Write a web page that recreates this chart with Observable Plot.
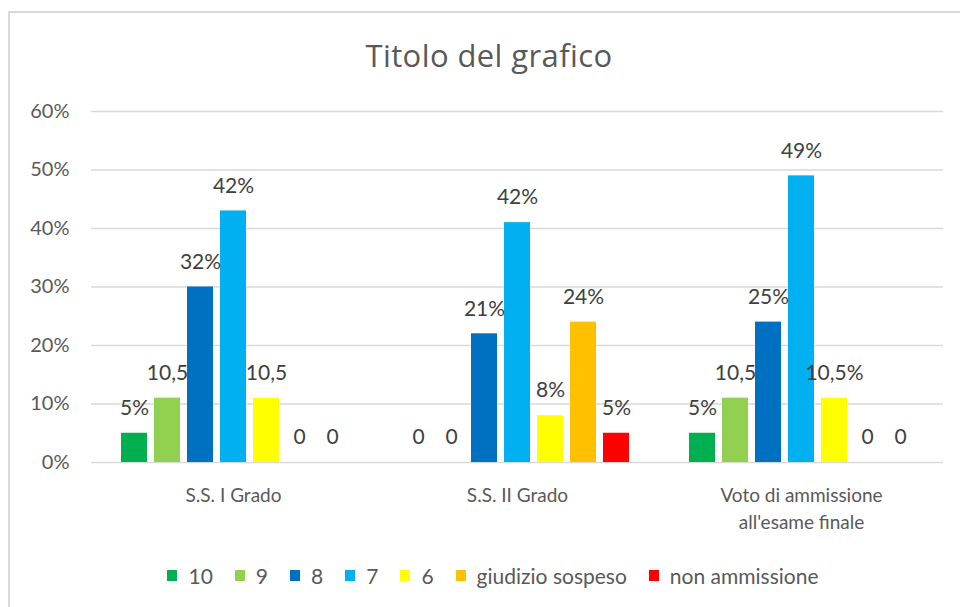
<!DOCTYPE html>
<html><head><meta charset="utf-8">
<script src="https://cdn.jsdelivr.net/npm/d3@7"></script>
<script src="https://cdn.jsdelivr.net/npm/@observablehq/plot@0.6"></script>
<style>
body{margin:0;background:#fff;font-family:Lato,"Open Sans",sans-serif;}
#wrap{position:relative;width:960px;height:607px;overflow:hidden;background:#fff;}
#frame{position:absolute;left:8px;top:11px;width:1000px;height:700px;border:2px solid #D9D9D9;box-sizing:border-box;}
#title{position:absolute;top:40px;left:0;width:978px;text-align:center;font-family:"Open Sans",Lato,sans-serif;font-size:31px;letter-spacing:0.4px;line-height:1;color:#595959;}
#chart{position:absolute;left:0;top:90px;}
#legend{position:absolute;top:565px;left:0;width:986px;display:flex;justify-content:center;align-items:center;font-size:21px;line-height:1;color:#595959;}
.item{display:flex;align-items:center;margin:0 11px;}
.sw{width:10px;height:11px;margin-right:11px;}
</style>
</head><body>
<div id="wrap">
  <div id="frame"></div>
  <div id="title">Titolo del grafico</div>
  <div id="chart"></div>
  <div id="legend"></div>
</div>
<script>
const groups = ["S.S. I Grado", "S.S. II Grado", "Voto di ammissione\nall'esame finale"];
const series = ["10", "9", "8", "7", "6", "giudizio sospeso", "non ammissione"];
const colors = ["#00B050", "#92D050", "#0070C0", "#00B0F0", "#FFFF00", "#FFC000", "#FF0000"];
const valuesI = [5, 11, 30, 43, 11, 0, 0];
const valuesII = [0, 0, 22, 41, 8, 24, 5];
const valuesVoto = [5, 11, 24, 49, 11, 0, 0];
const labelsI = ["5%", "10,5", "32%", "42%", "10,5", "0", "0"];
const labelsII = ["0", "0", "21%", "42%", "8%", "24%", "5%"];
const labelsVoto = ["5%", "10,5", "25%", "49%", "10,5%", "0", "0"];
const yTicks = [0, 10, 20, 30, 40, 50, 60];

const allValues = [valuesI, valuesII, valuesVoto];
const allLabels = [labelsI, labelsII, labelsVoto];
const data = [];
groups.forEach((g, gi) => series.forEach((s, si) => data.push({group: g, series: s, value: allValues[gi][si], label: allLabels[gi][si]})));

const chart = Plot.plot({
  width: 960,
  height: 450,
  marginTop: 21,
  marginBottom: 78,
  marginLeft: 90,
  marginRight: 17,
  style: {fontFamily: "Lato, 'Open Sans', sans-serif", fontSize: "20px", color: "#595959", background: "transparent"},
  fx: {domain: groups, padding: 0, label: null},
  x: {domain: series, axis: null, paddingInner: 0.22, paddingOuter: 0.865},
  y: {domain: [0, 60], axis: null},
  color: {domain: series, range: colors},
  marks: [
    Plot.ruleY(yTicks, {y: d => d, stroke: "#D9D9D9", strokeWidth: 1.3}),
    Plot.axisY({ticks: yTicks, label: null, tickSize: 0, tickPadding: 22, tickFormat: d => d + "%", fill: "#595959", fontSize: 20}),
    Plot.axisFx({anchor: "bottom", tickSize: 0, tickPadding: 21, label: null, fill: "#595959", fontSize: 19, lineHeight: 1.4, lineAnchor: "top"}),
    Plot.barY(data, {fx: "group", x: "series", y: "value", fill: "series"}),
    Plot.text(data, {fx: "group", x: "series", y: "value", text: "label", dy: -25, fill: "#404040", fontSize: 21})
  ]
});
document.getElementById("chart").appendChild(chart);

const legend = document.getElementById("legend");
series.forEach((s, i) => {
  const it = document.createElement("div");
  it.className = "item";
  const sw = document.createElement("span");
  sw.className = "sw";
  sw.style.background = colors[i];
  const t = document.createElement("span");
  t.textContent = s;
  it.appendChild(sw); it.appendChild(t);
  legend.appendChild(it);
});
</script>
</body></html>
